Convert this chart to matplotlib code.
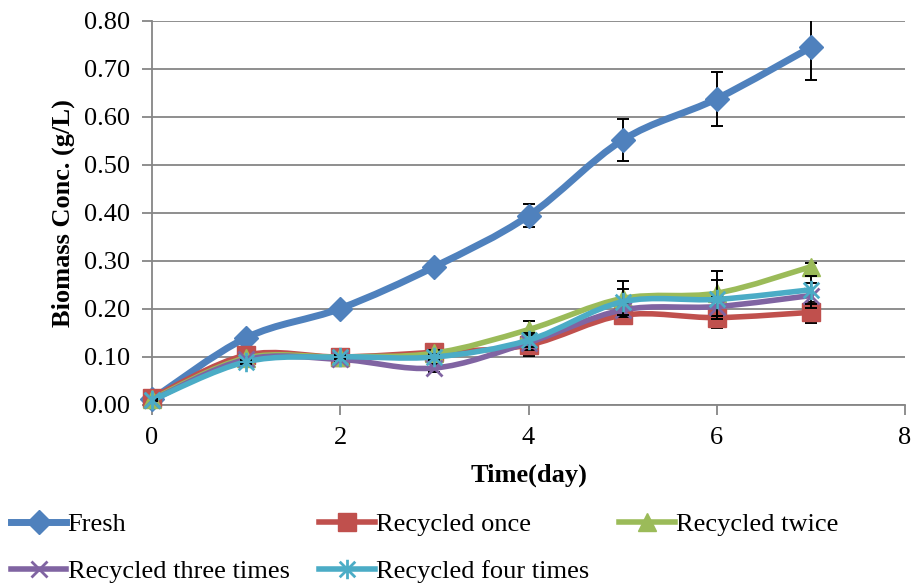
import numpy as np
import matplotlib
matplotlib.use("Agg")
import matplotlib.pyplot as plt
from matplotlib.path import Path
from matplotlib.patches import PathPatch
from matplotlib.lines import Line2D

# ---- data -------------------------------------------------------------
days = [0, 1, 2, 3, 4, 5, 6, 7]

fresh = [0.012, 0.140, 0.201, 0.288, 0.394, 0.552, 0.638, 0.745]
fresh_err = [0.003, 0.005, 0.005, 0.008, 0.024, 0.044, 0.056, 0.068]

once = [0.015, 0.104, 0.100, 0.110, 0.125, 0.187, 0.182, 0.193]
once_err = [0.002, 0.005, 0.005, 0.008, 0.023, 0.018, 0.022, 0.022]

twice = [0.012, 0.098, 0.100, 0.108, 0.157, 0.222, 0.233, 0.288]
twice_err = [0.002, 0.004, 0.004, 0.006, 0.018, 0.036, 0.047, 0.008]

three = [0.010, 0.095, 0.095, 0.077, 0.130, 0.198, 0.205, 0.228]
three_err = [0.002, 0.004, 0.005, 0.008, 0.015, 0.015, 0.020, 0.026]

four = [0.010, 0.090, 0.100, 0.100, 0.135, 0.215, 0.220, 0.240]
four_err = [0.002, 0.004, 0.004, 0.006, 0.015, 0.027, 0.040, 0.029]

labels = ["Fresh", "Recycled once", "Recycled twice",
          "Recycled three times", "Recycled four times"]
y_ticks = [0.0, 0.1, 0.2, 0.3, 0.4, 0.5, 0.6, 0.7, 0.8]
x_ticks = [0, 2, 4, 6, 8]

# ---- style --------------------------------------------------------------
plt.rcParams["font.family"] = ["Liberation Serif", "DejaVu Serif"]
FS = 19
GRID = "#868686"

# asterisk marker: an x with a vertical stroke
star_path = Path(
    [(0, -1), (0, 1), (-0.8, -0.8), (0.8, 0.8), (-0.8, 0.8), (0.8, -0.8)],
    [Path.MOVETO, Path.LINETO, Path.MOVETO, Path.LINETO, Path.MOVETO, Path.LINETO],
)

series = [
    (fresh, fresh_err, "#4F81BD", "D", 12, 5.0),
    (once, once_err, "#C0504D", "s", 13, 4.0),
    (twice, twice_err, "#9BBB59", "^", 13, 4.0),
    (three, three_err, "#8064A2", "x", 12, 4.0),
    (four, four_err, "#4BACC6", star_path, 14, 4.0),
]


def smooth_path(x, y):
    """Bezier path through the points (spreadsheet-style smoothed line)."""
    pts = np.column_stack([x, y]).astype(float)
    n = len(pts)
    verts = [tuple(pts[0])]
    codes = [Path.MOVETO]
    for i in range(n - 1):
        p0 = pts[i - 1] if i > 0 else pts[i]
        p1 = pts[i]
        p2 = pts[i + 1]
        p3 = pts[i + 2] if i + 2 < n else pts[i + 1]
        c1 = p1 + (p2 - p0) / 6.0
        c2 = p2 - (p3 - p1) / 6.0
        verts += [tuple(c1), tuple(c2), tuple(p2)]
        codes += [Path.CURVE4, Path.CURVE4, Path.CURVE4]
    return Path(verts, codes)


fig = plt.figure(figsize=(9.11, 5.86), dpi=100)
ax = fig.add_axes([0.1669, 0.3089, 0.8265, 0.6553])

handles = []
for k, (vals, errs, color, marker, ms, lw) in enumerate(series):
    z = 3 + k
    patch = PathPatch(smooth_path(days, vals), fill=False, edgecolor=color,
                      lw=lw, zorder=z, capstyle="round", joinstyle="round")
    ax.add_patch(patch)
    ax.errorbar(days, vals, yerr=errs, fmt="none", ecolor="black",
                elinewidth=1.4, capsize=4.5, capthick=1.4, zorder=z + 0.2)
    if marker == "x" or marker is star_path:
        ax.plot(days, vals, linestyle="none", marker=marker, ms=ms,
                mec=color, mew=2.0, zorder=z + 0.4, clip_on=False)
        h = Line2D([], [], color=color, lw=lw, marker=marker, ms=ms,
                   mec=color, mew=2.0)
    else:
        ax.plot(days, vals, linestyle="none", marker=marker, ms=ms,
                mfc=color, mec=color, zorder=z + 0.4, clip_on=False)
        h = Line2D([], [], color=color, lw=lw, marker=marker, ms=ms,
                   mfc=color, mec=color)
    handles.append(h)

ax.set_xlim(0, 8)
ax.set_ylim(0, 0.8)
ax.set_xticks(x_ticks)
ax.set_yticks(y_ticks)
ax.set_yticklabels([f"{v:.2f}" for v in y_ticks])
ax.tick_params(axis="both", labelsize=FS, direction="out", length=7,
               width=1.3, color=GRID, pad=9)
ax.yaxis.grid(True, color=GRID, lw=1.3)
ax.set_axisbelow(True)
for s in ("top", "right"):
    ax.spines[s].set_visible(False)
for s in ("left", "bottom"):
    ax.spines[s].set_color(GRID)
    ax.spines[s].set_linewidth(1.3)

ax.set_xlabel("Time(day)", fontsize=FS, fontweight="bold", labelpad=10)
ax.set_ylabel("Biomass Conc. (g/L)", fontsize=FS, fontweight="bold", labelpad=6)

# row-major legend order across three columns
order = [0, 3, 1, 4, 2]
fig.legend([handles[i] for i in order], [labels[i] for i in order],
           loc="upper left", bbox_to_anchor=(0.012, 0.125), ncol=3,
           frameon=False, fontsize=FS, handlelength=2.1, handletextpad=0.05,
           columnspacing=1.13, labelspacing=0.9, borderpad=0, borderaxespad=0)

fig.savefig("out.png", dpi=100)
